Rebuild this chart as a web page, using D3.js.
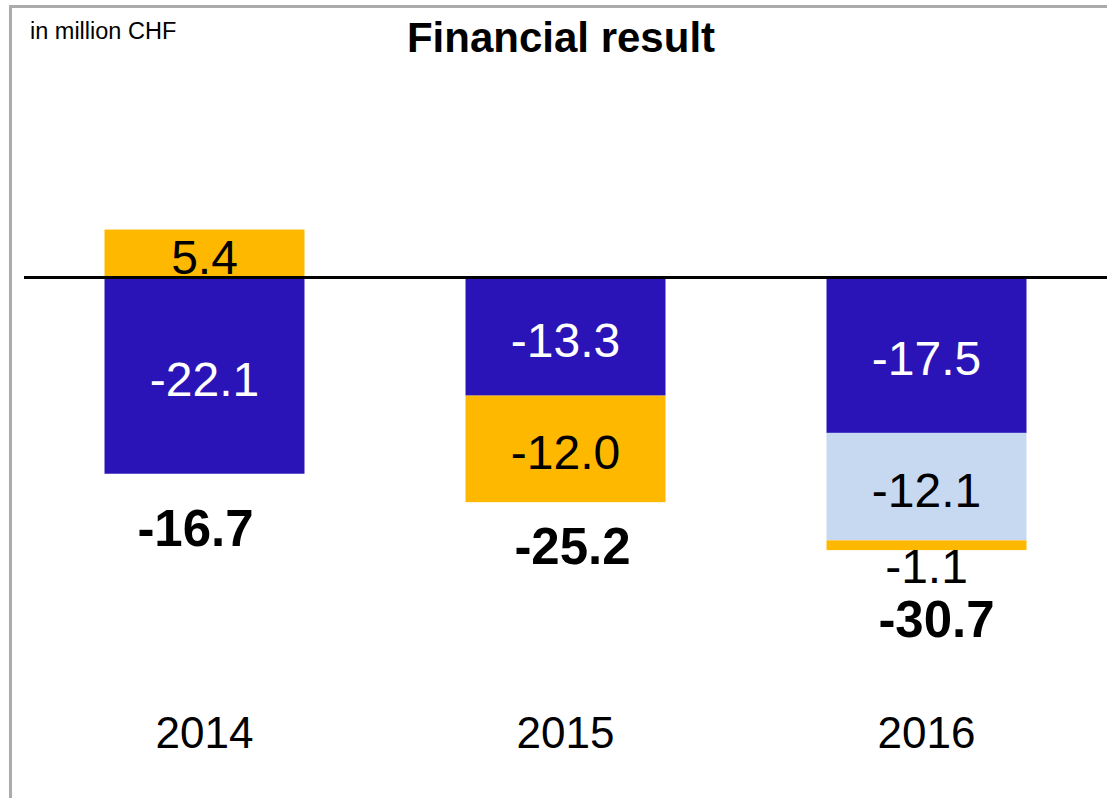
<!DOCTYPE html>
<html>
<head>
<meta charset="utf-8">
<script src="https://cdn.jsdelivr.net/npm/d3@7"></script>
<style>
  html, body { margin: 0; padding: 0; background: #fff; }
  svg { display: block; font-family: "Liberation Sans", Arial, sans-serif; }
</style>
</head>
<body>
<svg id="chart" width="1107" height="798"></svg>
<script>
// values in million CHF
const years = ["2014", "2015", "2016"]
const netInterest = [-22.1, -13.3, -17.5]
const exchangeEffect = [0, 0, -12.1]
const otherResult = [5.4, -12.0, -1.1]
const totals = ["-16.7", "-25.2", "-30.7"]

const seriesKeys = ["netInterest", "exchangeEffect", "otherResult"]
const colors = {
  netInterest: "#2a14b8",
  exchangeEffect: "#c6d9f1",
  otherResult: "#ffb800",
}
const textColors = {
  netInterest: "#fff",
  exchangeEffect: "#000",
  otherResult: "#000",
}

const rows = years.map((y, i) => ({
  year: y,
  netInterest: netInterest[i],
  exchangeEffect: exchangeEffect[i],
  otherResult: otherResult[i],
  total: totals[i],
}))

const width = 1107
const height = 798

const svg = d3.select("#chart")

const x = d3.scaleBand()
  .domain(years)
  .range([24, 1107])
  .paddingInner(0.446)
  .paddingOuter(0.223)

const y = d3.scaleLinear()
  .domain([10, -40])
  .range([188.7, 632.7])

const stack = d3.stack()
  .keys(seriesKeys)
  .offset(d3.stackOffsetDiverging)
const stacked = stack(rows)

// frame (top + left only)
svg.append("path")
  .attr("d", `M10.5,${height} V6.5 H${width}`)
  .attr("fill", "none")
  .attr("stroke", "#ababab")
  .attr("stroke-width", 3)

svg.append("text")
  .attr("x", 30)
  .attr("y", 39)
  .attr("font-size", 23.5)
  .text("in million CHF")

svg.append("text")
  .attr("x", 561)
  .attr("y", 52)
  .attr("text-anchor", "middle")
  .attr("font-size", 42)
  .attr("font-weight", "bold")
  .text("Financial result")

const layers = svg.selectAll("g.layer")
  .data(stacked)
  .join("g")
  .attr("class", "layer")
  .attr("fill", d => colors[d.key])

layers.selectAll("rect")
  .data(d => d.filter(s => s[1] - s[0] !== 0))
  .join("rect")
  .attr("x", d => x(d.data.year))
  .attr("width", x.bandwidth())
  .attr("y", d => y(d[1]))
  .attr("height", d => y(d[0]) - y(d[1]))

// zero line
svg.append("line")
  .attr("x1", 24)
  .attr("x2", width)
  .attr("y1", y(0))
  .attr("y2", y(0))
  .attr("stroke", "#000")
  .attr("stroke-width", 3)

// segment labels
const segs = []
stacked.forEach(layer => {
  layer.forEach(s => {
    if (s[1] - s[0] === 0) return
    segs.push({ key: layer.key, lo: s[0], hi: s[1], year: s.data.year, value: s.data[layer.key] })
  })
})

const small = (d) => Math.abs(y(d.lo) - y(d.hi)) < 30

svg.selectAll("text.seg")
  .data(segs)
  .join("text")
  .attr("class", "seg")
  .attr("x", d => x(d.year) + x.bandwidth() / 2)
  .attr("y", d => small(d)
    ? y(d.lo) + 33
    : (y(d.lo) + y(d.hi)) / 2 + 20)
  .attr("text-anchor", "middle")
  .attr("font-size", 48)
  .attr("fill", d => small(d) ? "#000" : textColors[d.key])
  .text(d => d3.format(".1f")(d.value).replace("−", "-"))

// totals (bold) below each column
const nudgeY = [5, -5, 0]
const nudgeX = [-9, 7, 10]
svg.selectAll("text.total")
  .data(rows)
  .join("text")
  .attr("class", "total")
  .attr("x", (d, i) => x(d.year) + x.bandwidth() / 2 + nudgeX[i])
  .attr("y", (d, i) => {
    const below = segs.some(s => s.year === d.year && small(s))
    const b = d3.max(segs.filter(s => s.year === d.year), s => y(s.lo))
    return below ? b + 33 + 54 : b + 67 + nudgeY[i]
  })
  .attr("text-anchor", "middle")
  .attr("font-size", 51)
  .attr("font-weight", "bold")
  .text(d => d.total)

// year axis labels
svg.selectAll("text.year")
  .data(years)
  .join("text")
  .attr("class", "year")
  .attr("x", d => x(d) + x.bandwidth() / 2)
  .attr("y", 748)
  .attr("text-anchor", "middle")
  .attr("font-size", 44)
  .text(d => d)
</script>
</body>
</html>
